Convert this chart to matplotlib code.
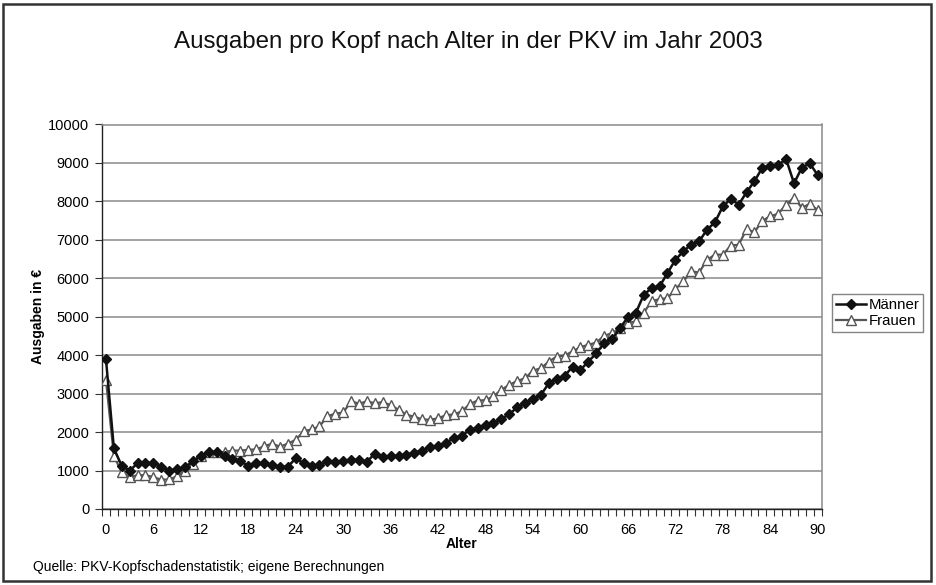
import matplotlib
matplotlib.use("Agg")
import matplotlib.pyplot as plt
from matplotlib.patches import Rectangle
from matplotlib.lines import Line2D

plt.rcParams['font.family'] = ['Liberation Sans', 'DejaVu Sans']

ages = list(range(0, 91))
maenner = [3900, 1580, 1120, 1000, 1190, 1200, 1190, 1100, 1000, 1030,
           1090, 1240, 1390, 1480, 1480, 1380, 1310, 1250, 1110, 1190,
           1190, 1150, 1090, 1100, 1320, 1190, 1120, 1140, 1240, 1220,
           1240, 1270, 1280, 1230, 1440, 1350, 1380, 1380, 1405, 1465,
           1520, 1600, 1630, 1725, 1840, 1910, 2055, 2100, 2185, 2230,
           2335, 2470, 2640, 2750, 2855, 2970, 3270, 3375, 3460, 3705,
           3620, 3835, 4050, 4315, 4420, 4705, 4990, 5100, 5570, 5745,
           5790, 6135, 6480, 6700, 6875, 6960, 7265, 7455, 7870, 8065,
           7915, 8240, 8525, 8880, 8930, 8950, 9100, 8470, 8880, 8990,
           8680]
frauen = [3360, 1380, 950, 830, 880, 880, 830, 760, 770, 850,
          1000, 1170, 1380, 1490, 1480, 1480, 1520, 1520, 1540, 1550,
          1630, 1700, 1620, 1700, 1800, 2020, 2070, 2150, 2410, 2480,
          2510, 2800, 2740, 2800, 2750, 2780, 2700, 2580, 2450, 2400,
          2330, 2320, 2360, 2440, 2460, 2540, 2730, 2820, 2830, 2930,
          3100, 3230, 3330, 3400, 3600, 3660, 3835, 3965, 3990, 4100,
          4210, 4270, 4330, 4505, 4575, 4705, 4835, 4880, 5110, 5400,
          5460, 5480, 5720, 5920, 6180, 6150, 6480, 6615, 6615, 6850,
          6875, 7270, 7200, 7500, 7610, 7680, 7915, 8100, 7830, 7940,
          7770]
x_labels = list(range(0, 91, 6))
y_ticks = list(range(0, 10001, 1000))

W, H = 937, 585
fig = plt.figure(figsize=(W / 100, H / 100), dpi=100)
fig.patch.set_facecolor('white')
ax = fig.add_axes([102 / W, 1 - 509 / H, (821.7 - 102) / W, (509 - 124.5) / H])

grid_c = '#8a8a8a'
ax.set_ylim(0, 10000)
ax.set_xlim(-0.5, 90.5)
ax.set_yticks(y_ticks)
ax.yaxis.grid(True, color=grid_c, linewidth=1.1)
ax.set_axisbelow(True)

ax.plot(ages, frauen, color='#555555', linewidth=1.6, marker='^', markersize=6.5,
        markerfacecolor='white', markeredgecolor='#555555', markeredgewidth=1.0,
        label='Frauen', zorder=3)
ax.plot(ages, maenner, color='#111111', linewidth=1.8, marker='D', markersize=5.5,
        markerfacecolor='#111111', markeredgecolor='#111111', label='Männer', zorder=4)

ax.set_xticks(x_labels)
ax.set_xticks([a - 0.5 for a in range(0, 92)], minor=True)
ax.tick_params(axis='x', which='major', length=0, pad=10, labelsize=10.5)
ax.tick_params(axis='x', which='minor', length=5, width=0.8, color='#333333')
ax.tick_params(axis='y', which='major', length=5, width=0.8, color='#333333', labelsize=10.5, pad=4)

for s in ['left', 'bottom']:
    ax.spines[s].set_color('#222222')
    ax.spines[s].set_linewidth(1.0)
for s in ['top', 'right']:
    ax.spines[s].set_color(grid_c)
    ax.spines[s].set_linewidth(1.1)

ax.set_xlabel('Alter', fontsize=10, fontweight='bold', labelpad=0)
ax.set_ylabel('Ausgaben in €', fontsize=10, fontweight='bold', labelpad=2.5)

fig.text(468 / W, 1 - 42 / H, 'Ausgaben pro Kopf nach Alter in der PKV im Jahr 2003',
         ha='center', va='center', fontsize=17.4, color='#111111')
fig.text(33 / W, 1 - 567 / H, 'Quelle: PKV-Kopfschadenstatistik; eigene Berechnungen',
         ha='left', va='center', fontsize=10)

handles = [Line2D([], [], color='#111111', linewidth=1.8, marker='D', markersize=5.5),
           Line2D([], [], color='#555555', linewidth=1.6, marker='^', markersize=6.5,
                  markerfacecolor='white', markeredgecolor='#555555')]
leg = fig.legend(handles, ['Männer', 'Frauen'], loc='upper left',
                 bbox_to_anchor=(832 / W, 1 - 294 / H), fontsize=10.8,
                 frameon=True, fancybox=False, edgecolor='#666666',
                 handlelength=2.0, handletextpad=0.2, borderpad=0.25,
                 labelspacing=0.15, borderaxespad=0)
leg.get_frame().set_linewidth(1.0)

fig.patches.append(Rectangle((3.5 / W, 1 - 581 / H), (931 - 3.5) / W, (581 - 3.5) / H,
                             transform=fig.transFigure, fill=False,
                             edgecolor='#333333', linewidth=1.8))

fig.savefig('out.png', dpi=100)
